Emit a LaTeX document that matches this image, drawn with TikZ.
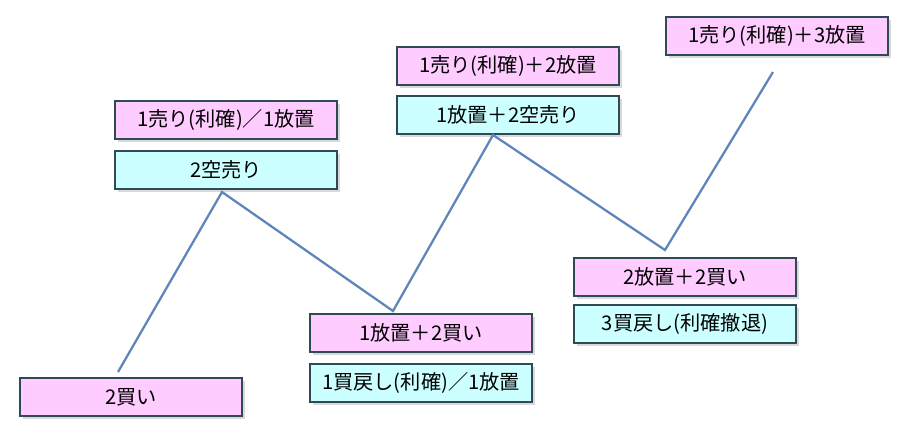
\documentclass[tikz,border=0pt]{standalone}
\usepackage{fontspec}
\setmainfont{Noto Sans CJK JP}
\usetikzlibrary{shadows}
\definecolor{boxpink}{HTML}{FFCCFF}
\definecolor{boxcyan}{HTML}{CCFFFF}
\definecolor{boxline}{HTML}{2F4A55}
\definecolor{trend}{HTML}{5F86BA}
\tikzset{
  box/.style={draw=boxline, line width=1.4pt, minimum width=4.44cm, minimum height=0.76cm,
    inner sep=0pt, font=\fontsize{11.5}{13}\selectfont, drop shadow={opacity=0.3, shadow xshift=1.5pt, shadow yshift=-1.5pt}},
  pinkbox/.style={box, fill=boxpink},
  cyanbox/.style={box, fill=boxcyan},
}
\begin{document}
\begin{tikzpicture}[x=0.02cm, y=-0.02cm]
    \useasboundingbox (0,0) rectangle (909,443);
    % boxes
    \node[pinkbox] (buy2) at (131,397) {2買い};
    \node[pinkbox] (sell1) at (226,120) {1売り(利確)／1放置};
    \node[cyanbox] (short2) at (226,170) {2空売り};
    \node[pinkbox] (sell1b) at (508,66) {1売り(利確)＋2放置};
    \node[cyanbox] (hold1short2) at (508,115) {1放置＋2空売り};
    \node[pinkbox] (sell1c) at (777,36) {1売り(利確)＋3放置};
    \node[pinkbox] (hold1buy2) at (421,333) {1放置＋2買い};
    \node[cyanbox] (cover1) at (421,383) {1買戻し(利確)／1放置};
    \node[pinkbox] (hold2buy2) at (685,277) {2放置＋2買い};
    \node[cyanbox] (cover3) at (685,324) {3買戻し(利確撤退)};
    % price path
    \coordinate (p0) at (118,372);
    \coordinate (p1) at (222,192);
    \coordinate (p2) at (393,311);
    \coordinate (p3) at (493,135);
    \coordinate (p4) at (665,250);
    \coordinate (p5) at (773,72);
    \draw[trend, line width=1.3pt] (p0) -- (p1) -- (p2) -- (p3) -- (p4) -- (p5);
\end{tikzpicture}
\end{document}
